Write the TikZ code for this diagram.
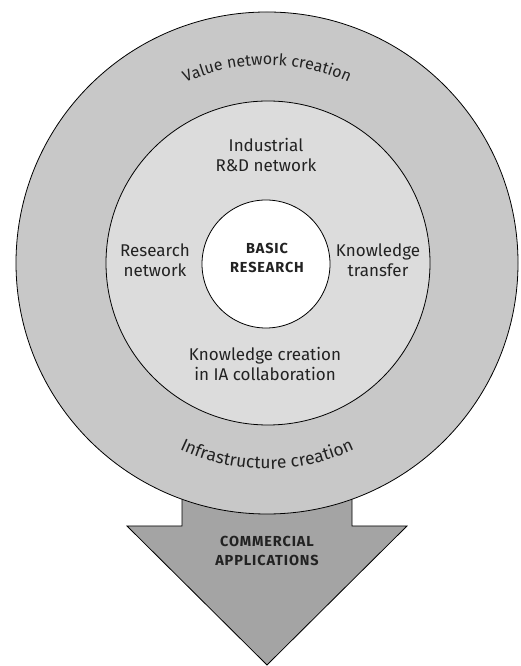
\documentclass[tikz,border=0pt]{standalone}
\usepackage{fontspec}
\setmainfont{Fira Sans}
\newfontfamily\capsfont[LetterSpace=6]{Fira Sans}
\usetikzlibrary{decorations.text,calc}
\definecolor{ringouter}{HTML}{C8C8C8}
\definecolor{ringmid}{HTML}{DCDCDC}
\definecolor{arrowfill}{HTML}{A4A4A4}
\definecolor{ink}{HTML}{222222}
\tikzset{
  disc/.style={draw=black, line width=0.8pt},
  label/.style={text=ink, align=center, anchor=base, inner sep=0pt,
    font=\fontsize{17}{20.5}\selectfont},
  caps/.style={text=ink, align=center, anchor=base, inner sep=0pt,
    font=\capsfont\bfseries\fontsize{14.5}{19.5}\selectfont},
  arclabel/.style 2 args={decorate, decoration={text along path, text align=center,
    text={|\fontsize{#1}{#1}\selectfont\color{ink}|#2}}}
}
\begin{document}
\begin{tikzpicture}[x=1pt,y=1pt]
\useasboundingbox (0,0) rectangle (520,666);
\coordinate (c) at (267,403);
% downward arrow behind the rings
\draw[disc, fill=arrowfill] (182,220) -- (182,140) -- (127,140) -- (267,1)
  -- (407,140) -- (352,140) -- (352,220) -- cycle;
% rings
\node[disc, circle, fill=ringouter, minimum size=502pt, inner sep=0pt] (outer) at (c) {};
\node[disc, circle, fill=ringmid, minimum size=324pt, inner sep=0pt] (mid) at (268,403) {};
\node[disc, circle, fill=white, minimum size=128pt, inner sep=0pt] (core) at (266,402) {};
% texts curved along the outer ring
\path[arclabel={16}{Value network creation}] ($(c)+(118:198)$) arc[start angle=118, end angle=62, radius=198];
\path[arclabel={17.5}{Infrastructure creation}] ($(c)+(206:206)$) arc[start angle=206, end angle=334, radius=206];
% labels (anchored at the baseline of the last line)
\node[caps] (basic) at (267,393) {BASIC\\RESEARCH};
\node[label] (ind) at (266,494) {Industrial\\R\&D network};
\node[label] (rn) at (155,389) {Research\\network};
\node[label] (kt) at (378,389) {Knowledge\\transfer};
\node[label] (kc) at (265,285) {Knowledge creation\\in IA collaboration};
\node[caps] (comm) at (267,100) {COMMERCIAL\\APPLICATIONS};
\end{tikzpicture}
\end{document}
